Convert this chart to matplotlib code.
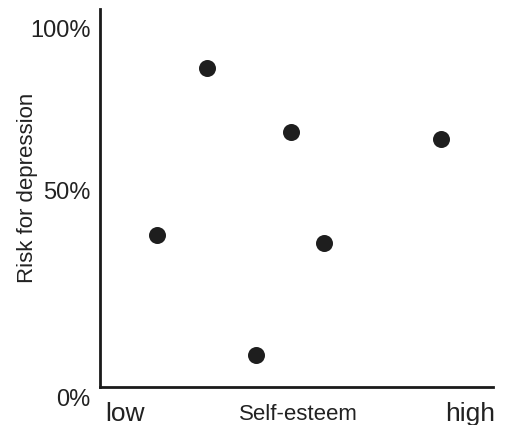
import matplotlib
matplotlib.use("Agg")
import matplotlib.pyplot as plt
import matplotlib.transforms as mtransforms

# Data (self-esteem on 0-10 scale, risk in %)
self_esteem = [1.46, 2.71, 3.98, 4.86, 5.71, 8.68]
risk = [42.3, 88.9, 8.9, 70.9, 40.0, 69.2]
y_ticks = [0, 50, 100]
y_tick_labels = ["0%", "50%", "100%"]
x_ticks = [0, 10]
x_tick_labels = ["low", "high"]

plt.rcParams['font.family'] = ['Liberation Sans', 'DejaVu Sans']

fig = plt.figure(figsize=(5.05, 4.25), dpi=100)
ax = fig.add_axes([100/505, (425-387)/425, (493-100)/505, (387-9)/425])

ax.scatter(self_esteem, risk, s=150, color="#1e1e1e", zorder=3, linewidths=0)

ax.set_xlim(0, 10)
ax.set_ylim(0, 105.3)

for side in ["top", "right"]:
    ax.spines[side].set_visible(False)
for side in ["left", "bottom"]:
    ax.spines[side].set_linewidth(2)
    ax.spines[side].set_color("#1a1a1a")

ax.set_yticks(y_ticks)
ax.set_yticklabels(y_tick_labels, fontsize=17, color="#222222")
ax.tick_params(axis="y", length=0, pad=7)
ylabels = ax.get_yticklabels()
offsets = [-10, 17, 0]
for lab, off in zip(ylabels, offsets):
    lab.set_transform(lab.get_transform() + mtransforms.ScaledTranslation(0, off/100, fig.dpi_scale_trans))

ax.set_xticks(x_ticks)
ax.set_xticklabels(x_tick_labels, fontsize=19, color="#222222")
ax.tick_params(axis="x", length=0, pad=11)
xl = ax.get_xticklabels()
xl[0].set_ha("left")
xl[1].set_ha("right")
xl[0].set_transform(xl[0].get_transform() + mtransforms.ScaledTranslation(5/100, 0, fig.dpi_scale_trans))
xl[1].set_transform(xl[1].get_transform() + mtransforms.ScaledTranslation(2/100, 0, fig.dpi_scale_trans))

ax.set_xlabel("Self-esteem", fontsize=16, color="#222222")
ax.xaxis.set_label_coords((298-100)/393, -0.045)
ax.xaxis.label.set_va("top")
ax.set_ylabel("Risk for depression", fontsize=16, color="#222222")
ax.yaxis.set_label_coords(-62/393, (387-188)/378)

fig.savefig("out.png", dpi=100)
